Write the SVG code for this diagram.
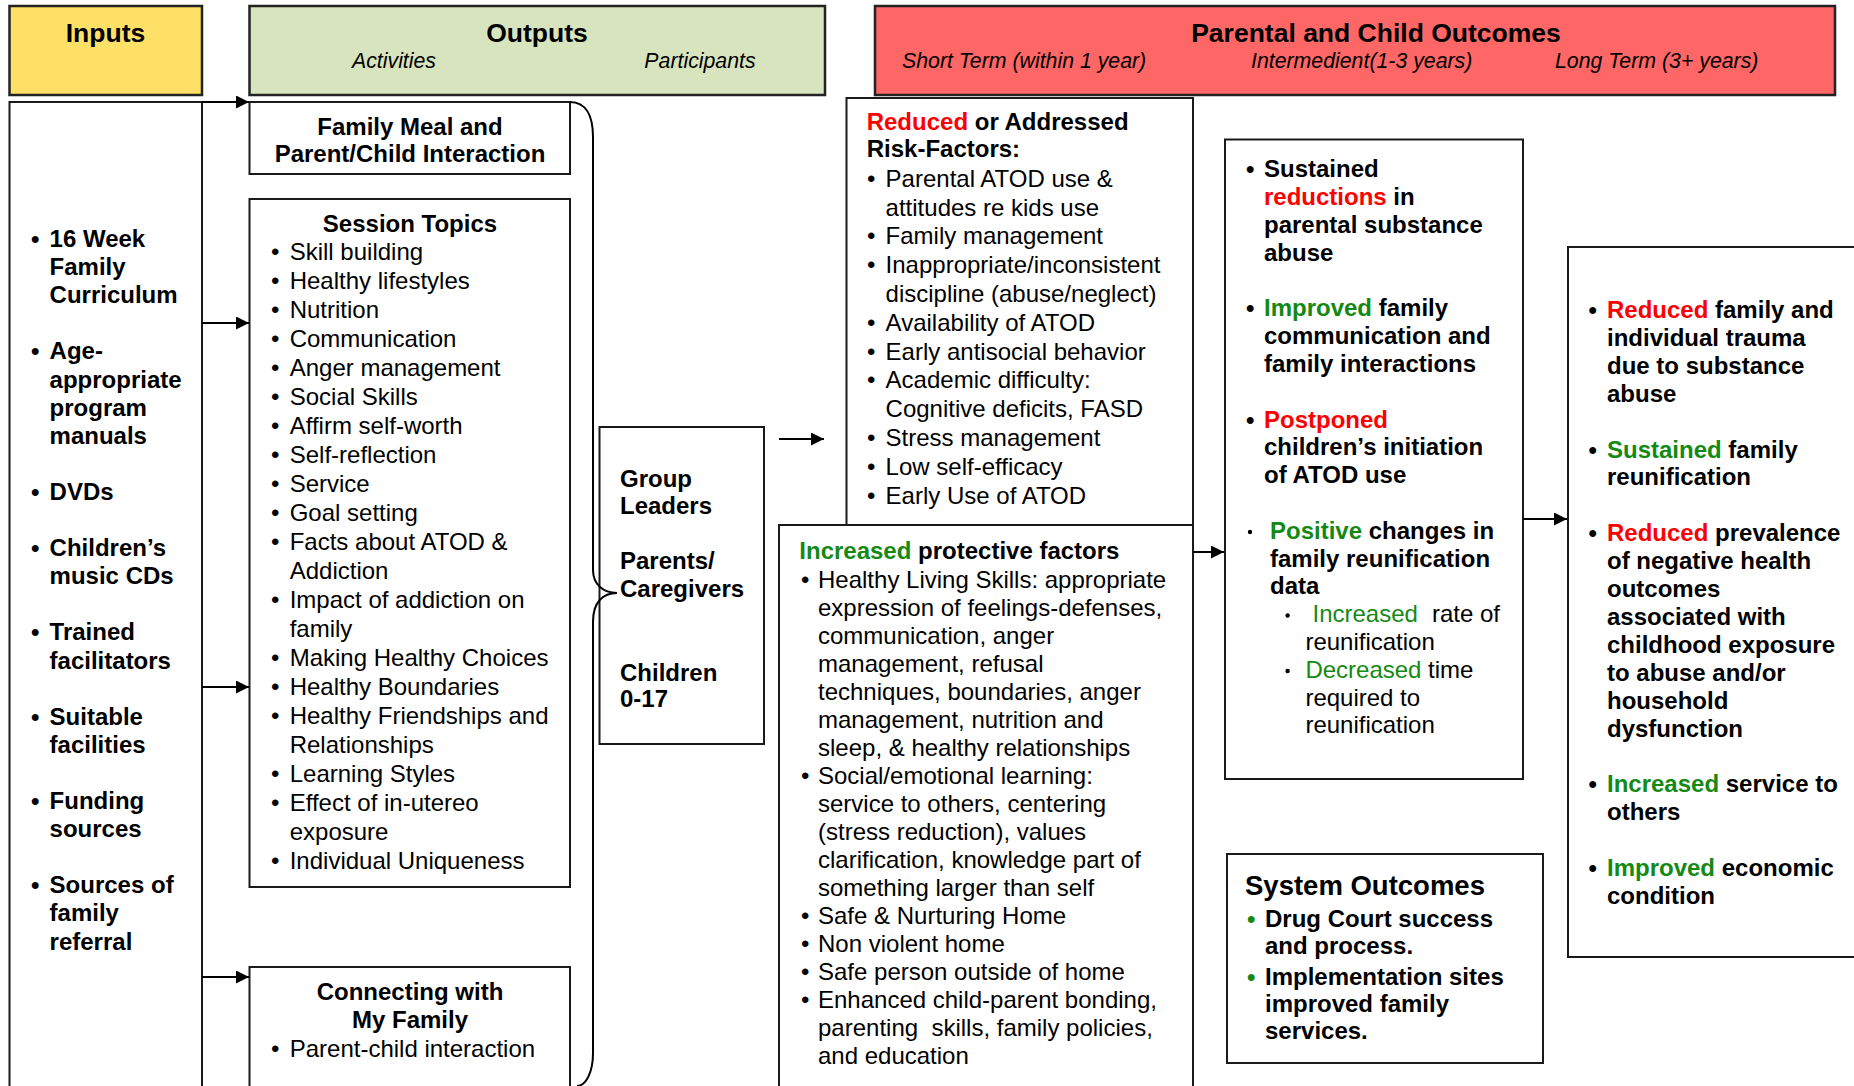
<svg xmlns="http://www.w3.org/2000/svg" width="1854" height="1086" viewBox="0 0 1854 1086">
<style>
text{font-family:'Liberation Sans',Arial,sans-serif;fill:#000}
.hd{font-weight:bold;font-size:26.5px}
.sub{font-style:italic;font-size:21.3px}
.b{font-weight:bold;font-size:24px}
.r{font-size:24px}
.p{font-size:24px}
.c{text-anchor:middle}
.red{fill:#FF0000}
.grn{fill:#148A14}
.box{fill:#fff;stroke:#1a1a1a;stroke-width:2}
.hbox{stroke:#222;stroke-width:2.5}
.conn{fill:none;stroke:#000;stroke-width:2}
.dot{fill:#000}
</style>
<defs>
<marker id="ah" viewBox="0 0 10 10" refX="10" refY="5" markerWidth="13" markerHeight="13" markerUnits="userSpaceOnUse" orient="auto"><path d="M0,0 L10,5 L0,10 z" fill="#000"/></marker>
</defs>
<rect width="1854" height="1086" fill="#fff"/>

<g id="hdr-inputs">
<rect class="hbox" x="9.5" y="6" width="192.5" height="89" fill="#FFE066"/>
<text class="hd c" x="105.5" y="41.5">Inputs</text>
</g>
<g id="hdr-outputs">
<rect class="hbox" x="249.5" y="6" width="575.5" height="89" fill="#D7E4BD"/>
<text class="hd c" x="537" y="41.5">Outputs</text>
<text class="sub c" x="394" y="68">Activities</text>
<text class="sub c" x="700" y="68">Participants</text>
</g>
<g id="hdr-outcomes">
<rect class="hbox" x="875" y="6" width="960" height="89" fill="#FF6666"/>
<text class="hd c" x="1376" y="41.5">Parental and Child Outcomes</text>
<text class="sub" x="902" y="68">Short Term (within 1 year)</text>
<text class="sub" x="1251" y="68">Intermedient(1-3 years)</text>
<text class="sub" x="1555" y="68">Long Term (3+ years)</text>
</g>

<g id="inputs">
<rect class="box" x="9.5" y="102" width="192.5" height="1010"/>
<g class="b">
<text x="31" y="247">•</text><text x="49.6" y="247">16 Week</text>
<text x="49.6" y="275.1">Family</text>
<text x="49.6" y="303.2">Curriculum</text>
<text x="31" y="359.4">•</text><text x="49.6" y="359.4">Age-</text>
<text x="49.6" y="387.5">appropriate</text>
<text x="49.6" y="415.6">program</text>
<text x="49.6" y="443.7">manuals</text>
<text x="31" y="499.9">•</text><text x="49.6" y="499.9">DVDs</text>
<text x="31" y="556.1">•</text><text x="49.6" y="556.1">Children’s</text>
<text x="49.6" y="584.2">music CDs</text>
<text x="31" y="640.4">•</text><text x="49.6" y="640.4">Trained</text>
<text x="49.6" y="668.5">facilitators</text>
<text x="31" y="724.7">•</text><text x="49.6" y="724.7">Suitable</text>
<text x="49.6" y="752.8">facilities</text>
<text x="31" y="809">•</text><text x="49.6" y="809">Funding</text>
<text x="49.6" y="837.1">sources</text>
<text x="31" y="893.3">•</text><text x="49.6" y="893.3">Sources of</text>
<text x="49.6" y="921.4">family</text>
<text x="49.6" y="949.5">referral</text>
</g>
</g>

<g id="family-meal">
<rect class="box" x="249.5" y="102" width="320.5" height="72"/>
<text class="b c" x="410" y="134.8">Family Meal and</text>
<text class="b c" x="410" y="162">Parent/Child Interaction</text>
</g>

<g id="session-topics">
<rect class="box" x="249.5" y="199" width="320.5" height="688"/>
<text class="b c" x="410" y="231.7">Session Topics</text>
<g class="r">
<text x="271" y="260">•</text><text x="289.7" y="260">Skill building</text>
<text x="271" y="289">•</text><text x="289.7" y="289">Healthy lifestyles</text>
<text x="271" y="318">•</text><text x="289.7" y="318">Nutrition</text>
<text x="271" y="347">•</text><text x="289.7" y="347">Communication</text>
<text x="271" y="376">•</text><text x="289.7" y="376">Anger management</text>
<text x="271" y="405">•</text><text x="289.7" y="405">Social Skills</text>
<text x="271" y="434">•</text><text x="289.7" y="434">Affirm self-worth</text>
<text x="271" y="463">•</text><text x="289.7" y="463">Self-reflection</text>
<text x="271" y="492">•</text><text x="289.7" y="492">Service</text>
<text x="271" y="521">•</text><text x="289.7" y="521">Goal setting</text>
<text x="271" y="550">•</text><text x="289.7" y="550">Facts about ATOD &amp;</text>
<text x="289.7" y="579">Addiction</text>
<text x="271" y="608">•</text><text x="289.7" y="608">Impact of addiction on</text>
<text x="289.7" y="637">family</text>
<text x="271" y="666">•</text><text x="289.7" y="666">Making Healthy Choices</text>
<text x="271" y="695">•</text><text x="289.7" y="695">Healthy Boundaries</text>
<text x="271" y="724">•</text><text x="289.7" y="724">Healthy Friendships and</text>
<text x="289.7" y="753">Relationships</text>
<text x="271" y="782">•</text><text x="289.7" y="782">Learning Styles</text>
<text x="271" y="811">•</text><text x="289.7" y="811">Effect of in-utereo</text>
<text x="289.7" y="840">exposure</text>
<text x="271" y="869">•</text><text x="289.7" y="869">Individual Uniqueness</text>
</g>
</g>

<g id="connecting">
<rect class="box" x="249.5" y="967" width="320.5" height="140"/>
<text class="b c" x="410" y="1000">Connecting with</text>
<text class="b c" x="410" y="1027.5">My Family</text>
<text class="r" x="271" y="1057">•</text><text class="r" x="289.7" y="1057">Parent-child interaction</text>
</g>

<g id="participants">
<rect class="box" x="599.5" y="427" width="164.5" height="317"/>
<g class="b">
<text x="620" y="487">Group</text>
<text x="620" y="514">Leaders</text>
<text x="620" y="569">Parents/</text>
<text x="620" y="597">Caregivers</text>
<text x="620" y="681">Children</text>
<text x="620" y="707">0-17</text>
</g>
</g>

<g id="brace">
<path class="conn" d="M570,102 C586,102 593,116 593,137 V570 C593,584 603,593 617,593 C603,593 593,602 593,622 V1053 C593,1072 586,1086 577,1086"/>
</g>

<g id="risk-factors">
<rect class="box" x="846.5" y="98" width="346.5" height="428"/>
<text class="b" x="866.7" y="130"><tspan class="red">Reduced</tspan> or Addressed</text>
<text class="b" x="866.7" y="157">Risk-Factors:</text>
<g class="r">
<text x="867" y="186.8">•</text><text x="885.6" y="186.8">Parental ATOD use &amp;</text>
<text x="885.6" y="215.6">attitudes re kids use</text>
<text x="867" y="244.4">•</text><text x="885.6" y="244.4">Family management</text>
<text x="867" y="273.2">•</text><text x="885.6" y="273.2">Inappropriate/inconsistent</text>
<text x="885.6" y="302">discipline (abuse/neglect)</text>
<text x="867" y="330.8">•</text><text x="885.6" y="330.8">Availability of ATOD</text>
<text x="867" y="359.6">•</text><text x="885.6" y="359.6">Early antisocial behavior</text>
<text x="867" y="388.4">•</text><text x="885.6" y="388.4">Academic difficulty:</text>
<text x="885.6" y="417.2">Cognitive deficits, FASD</text>
<text x="867" y="446">•</text><text x="885.6" y="446">Stress management</text>
<text x="867" y="474.8">•</text><text x="885.6" y="474.8">Low self-efficacy</text>
<text x="867" y="503.6">•</text><text x="885.6" y="503.6">Early Use of ATOD</text>
</g>
</g>

<g id="protective-factors">
<rect class="box" x="779" y="525" width="414" height="590"/>
<text class="b" x="799.3" y="559"><tspan class="grn">Increased</tspan> protective factors</text>
<g class="p">
<text x="801" y="587.7">•</text><text x="818" y="587.7">Healthy Living Skills: appropriate</text>
<text x="818" y="615.7">expression of feelings-defenses,</text>
<text x="818" y="643.7">communication, anger</text>
<text x="818" y="671.7">management, refusal</text>
<text x="818" y="699.7">techniques, boundaries, anger</text>
<text x="818" y="727.7">management, nutrition and</text>
<text x="818" y="755.7">sleep, &amp; healthy relationships</text>
<text x="801" y="783.7">•</text><text x="818" y="783.7">Social/emotional learning:</text>
<text x="818" y="811.7">service to others, centering</text>
<text x="818" y="839.7">(stress reduction), values</text>
<text x="818" y="867.7">clarification, knowledge part of</text>
<text x="818" y="895.7">something larger than self</text>
<text x="801" y="923.7">•</text><text x="818" y="923.7">Safe &amp; Nurturing Home</text>
<text x="801" y="951.7">•</text><text x="818" y="951.7">Non violent home</text>
<text x="801" y="979.7">•</text><text x="818" y="979.7">Safe person outside of home</text>
<text x="801" y="1007.7">•</text><text x="818" y="1007.7">Enhanced child-parent bonding,</text>
<text x="818" y="1035.7" xml:space="preserve">parenting  skills, family policies,</text>
<text x="818" y="1063.7">and education</text>
</g>
</g>

<g id="intermediate">
<rect class="box" x="1225" y="139.5" width="298" height="639.5"/>
<g class="b">
<text x="1246" y="177.4">•</text><text x="1264" y="177.4">Sustained</text>
<text x="1264" y="205.2"><tspan class="red">reductions</tspan> in</text>
<text x="1264" y="233">parental substance</text>
<text x="1264" y="260.8">abuse</text>
<text x="1246" y="316.4">•</text><text x="1264" y="316.4"><tspan class="grn">Improved</tspan> family</text>
<text x="1264" y="344.2">communication and</text>
<text x="1264" y="372">family interactions</text>
<text x="1246" y="427.6">•</text><text x="1264" y="427.6" class="red">Postponed</text>
<text x="1264" y="455.4">children’s initiation</text>
<text x="1264" y="483.2">of ATOD use</text>
<text x="1270" y="538.8"><tspan class="grn">Positive</tspan> changes in</text>
<text x="1270" y="566.6">family reunification</text>
<text x="1270" y="594.4">data</text>
</g>
<circle class="dot" cx="1250" cy="532" r="2.2"/>
<circle class="dot" cx="1287.6" cy="615.5" r="2.2"/>
<circle class="dot" cx="1287.6" cy="671" r="2.2"/>
<g class="p">
<text x="1312.5" y="622.2" class="grn">Increased</text><text x="1432" y="622.2">rate of</text>
<text x="1305.4" y="650">reunification</text>
<text x="1305.4" y="677.8"><tspan class="grn">Decreased</tspan> time</text>
<text x="1305.4" y="705.6">required to</text>
<text x="1305.4" y="733.4">reunification</text>
</g>
</g>

<g id="long-term">
<rect class="box" x="1568" y="247" width="300" height="710"/>
<g class="b">
<text x="1588.5" y="318">•</text><text x="1607" y="318"><tspan class="red">Reduced</tspan> family and</text>
<text x="1607" y="345.9">individual trauma</text>
<text x="1607" y="373.8">due to substance</text>
<text x="1607" y="401.7">abuse</text>
<text x="1588.5" y="457.5">•</text><text x="1607" y="457.5"><tspan class="grn">Sustained</tspan> family</text>
<text x="1607" y="485.4">reunification</text>
<text x="1588.5" y="541.2">•</text><text x="1607" y="541.2"><tspan class="red">Reduced</tspan> prevalence</text>
<text x="1607" y="569.1">of negative health</text>
<text x="1607" y="597">outcomes</text>
<text x="1607" y="624.9">associated with</text>
<text x="1607" y="652.8">childhood exposure</text>
<text x="1607" y="680.7">to abuse and/or</text>
<text x="1607" y="708.6">household</text>
<text x="1607" y="736.5">dysfunction</text>
<text x="1588.5" y="792.3">•</text><text x="1607" y="792.3"><tspan class="grn">Increased</tspan> service to</text>
<text x="1607" y="820.2">others</text>
<text x="1588.5" y="876">•</text><text x="1607" y="876"><tspan class="grn">Improved</tspan> economic</text>
<text x="1607" y="903.9">condition</text>
</g>
</g>

<g id="system-outcomes">
<rect class="box" x="1227" y="854" width="316" height="209"/>
<text x="1245" y="895" style="font-weight:bold;font-size:27.5px">System Outcomes</text>
<g class="b">
<text x="1247" y="927" class="grn">•</text><text x="1265" y="927">Drug Court success</text>
<text x="1265" y="954">and process.</text>
<text x="1247" y="985" class="grn">•</text><text x="1265" y="985">Implementation sites</text>
<text x="1265" y="1012">improved family</text>
<text x="1265" y="1039.4">services.</text>
</g>
</g>

<g id="connectors">
<path class="conn" d="M202,102 H249" marker-end="url(#ah)"/>
<path class="conn" d="M202,323 H249" marker-end="url(#ah)"/>
<path class="conn" d="M202,687 H249" marker-end="url(#ah)"/>
<path class="conn" d="M202,977 H249" marker-end="url(#ah)"/>
<path class="conn" d="M779,439 H824" marker-end="url(#ah)"/>
<path class="conn" d="M1193,552 H1224" marker-end="url(#ah)"/>
<path class="conn" d="M1523,519 H1567" marker-end="url(#ah)"/>
</g>
</svg>
